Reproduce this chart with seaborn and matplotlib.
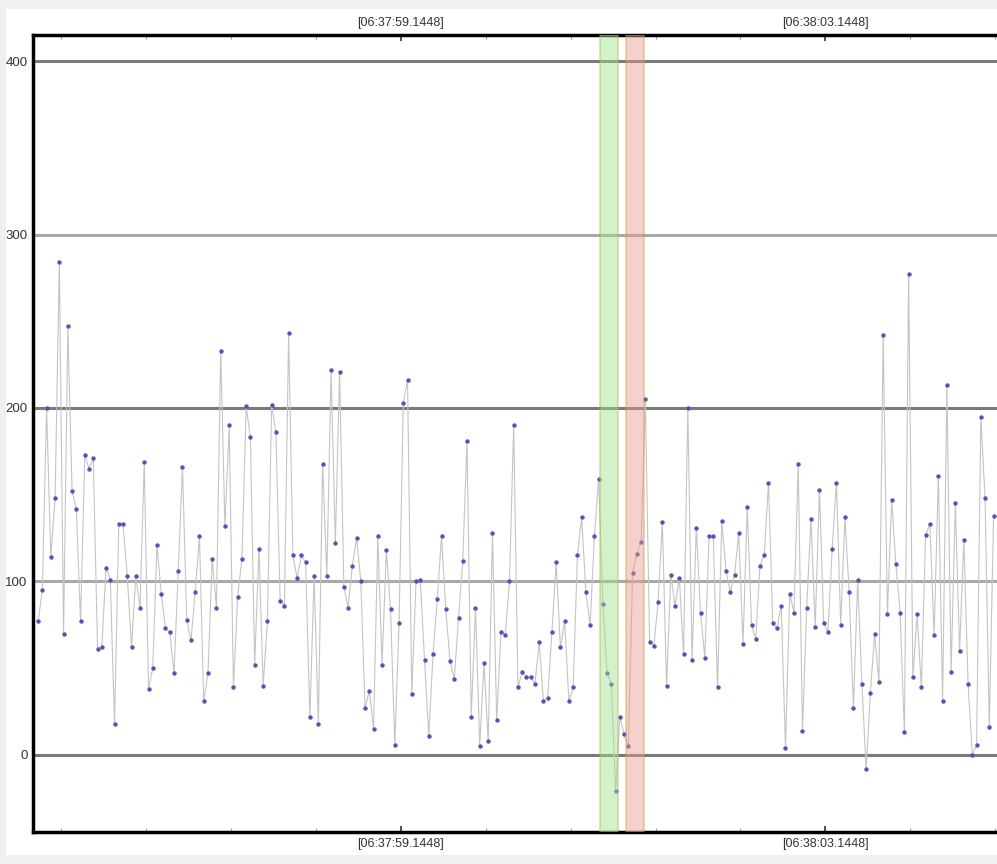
import matplotlib
matplotlib.use("Agg")
import matplotlib.pyplot as plt
import matplotlib.ticker as mticker
from matplotlib.patches import Rectangle
import seaborn as sns
import numpy as np
import pandas as pd

# samples (25 Hz), time in seconds relative to 06:37:59.1448
t_start = -3.416
sample_dt = 0.04
values = [
    77, 95, 200, 114, 148, 284, 70, 247, 152, 142, 77, 173, 165, 171, 61, 62,
    108, 101, 18, 133, 133, 103, 62, 103, 85, 169, 38, 50, 121, 93, 73, 71,
    47, 106, 166, 78, 66, 94, 126, 31, 47, 113, 85, 233, 132, 190, 39, 91,
    113, 201, 183, 52, 119, 40, 77, 202, 186, 89, 86, 243, 115, 102, 115, 111,
    22, 103, 18, 168, 103, 222, 122, 221, 97, 85, 109, 125, 100, 27, 37, 15,
    126, 52, 118, 84, 6, 76, 203, 216, 35, 100, 101, 55, 11, 58, 90, 126,
    84, 54, 44, 79, 112, 181, 22, 85, 5, 53, 8, 128, 20, 71, 69, 100,
    190, 39, 48, 45, 45, 41, 65, 31, 33, 71, 111, 62, 77, 31, 39, 115,
    137, 94, 75, 126, 159, 87, 47, 41, -21, 22, 12, 5, 105, 116, 123, 205,
    65, 63, 88, 134, 40, 104, 86, 102, 58, 200, 55, 131, 82, 56, 126, 126,
    39, 135, 106, 94, 104, 128, 64, 143, 75, 67, 109, 115, 157, 76, 73, 86,
    4, 93, 82, 168, 14, 85, 136, 74, 153, 76, 71, 119, 157, 75, 137, 94,
    27, 101, 41, -8, 36, 70, 42, 242, 81, 147, 110, 82, 13, 277, 45, 81,
    39, 127, 133, 69, 161, 31, 213, 48, 145, 60, 124, 41, 0, 6, 195, 148,
    16, 138,
]
major_ticks = [0.0, 4.0]
major_labels = ["[06:37:59.1448]", "[06:38:03.1448]"]
y_ticks = [0, 100, 200, 300, 400]
green_band = (1.88, 2.05)
red_band = (2.12, 2.29)

df = pd.DataFrame({"t": t_start + sample_dt * np.arange(len(values)), "value": values})

plt.rcParams["font.family"] = ["Liberation Sans", "DejaVu Sans"]
fig = plt.figure(figsize=(9.97, 8.64), dpi=100, facecolor="#f0f0f0")
fig.patches.append(Rectangle((6 / 997, 9 / 864), 991 / 997, 846 / 864,
                             transform=fig.transFigure, facecolor="white",
                             edgecolor="none", zorder=-10))
ax = fig.add_axes([33 / 997, 32 / 864, 975 / 997, 797 / 864])
ax.set_facecolor("white")

# horizontal grid lines
for yv in y_ticks:
    ax.axhline(yv, color="#7a7a7a" if yv % 200 == 0 else "#a8a8a8",
               linewidth=2.2, zorder=1)

sns.lineplot(data=df, x="t", y="value", ax=ax, color="#c4c4c4", linewidth=0.8,
             marker="o", markersize=2.4, markerfacecolor="#5252b4",
             markeredgecolor="#5252b4", zorder=3)

ax.axvspan(*green_band, facecolor="#9be38c", edgecolor="#b8b04a", alpha=0.45,
           linewidth=1.2, zorder=4)
ax.axvspan(*red_band, facecolor="#e99a8c", edgecolor="#c8a040", alpha=0.45,
           linewidth=1.2, zorder=4)

ax.set_xlim(-3.464, 5.72)
ax.set_ylim(-44.4, 415)
ax.set_xlabel("")
ax.set_ylabel("")

ax.xaxis.set_major_locator(mticker.FixedLocator(major_ticks))
ax.xaxis.set_major_formatter(mticker.FixedFormatter(major_labels))
ax.xaxis.set_minor_locator(mticker.MultipleLocator(0.8))
ax.tick_params(axis="x", which="both", direction="in", top=True, bottom=True,
               labeltop=True, labelbottom=True, labelsize=9, colors="#333333",
               pad=4)
ax.tick_params(axis="x", which="major", length=4, width=1.2)
ax.tick_params(axis="x", which="minor", length=3, width=0.8, color="#999999")
ax.set_yticks(y_ticks)
ax.tick_params(axis="y", length=0, labelsize=9.5, colors="#333333", pad=4)

for side in ["left", "top", "bottom"]:
    ax.spines[side].set_linewidth(2.5)
    ax.spines[side].set_color("black")
ax.spines["right"].set_visible(False)

fig.savefig("out.png", dpi=100, facecolor=fig.get_facecolor())
